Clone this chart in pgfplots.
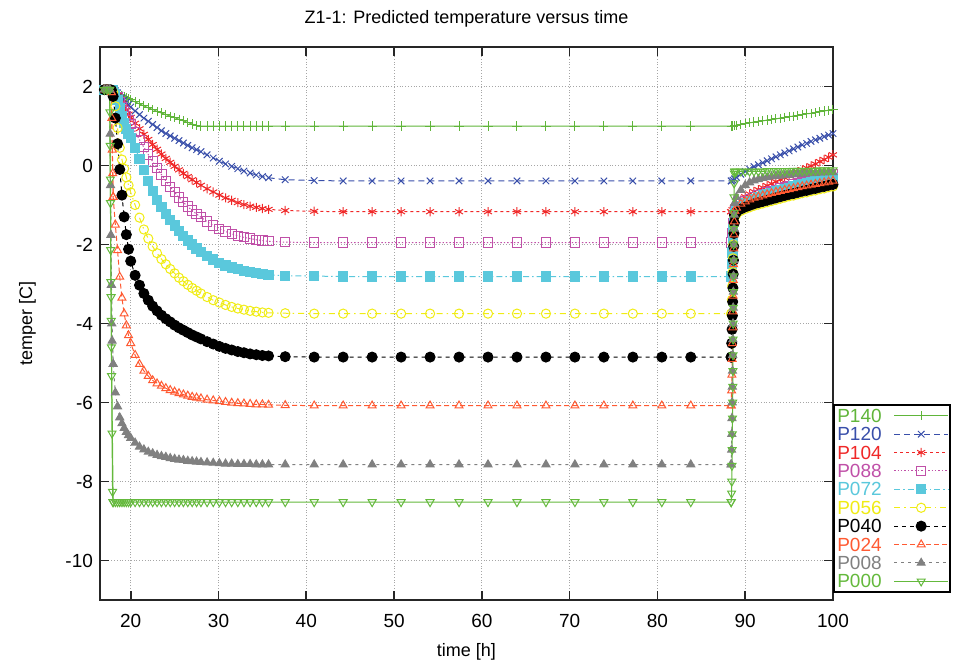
\documentclass[border=0pt]{standalone}
\usepackage{fontspec}
\setmainfont{Liberation Sans}
\usepackage{pgfplots}
\usepackage{pgfplotstable}
\pgfplotsset{compat=1.18}
\definecolor{c140}{RGB}{96,181,58}
\definecolor{c120}{RGB}{57,79,170}
\definecolor{c104}{RGB}{240,40,40}
\definecolor{c088}{RGB}{192,80,168}
\definecolor{c072}{RGB}{90,200,220}
\definecolor{c056}{RGB}{240,236,20}
\definecolor{c040}{RGB}{0,0,0}
\definecolor{c024}{RGB}{255,90,50}
\definecolor{c008}{RGB}{128,128,128}
\definecolor{c000}{RGB}{100,185,60}

\pgfplotstableread{
t p140 p120 p104 p088 p072 p056 p040 p024 p008 p000
17.0 1.92 1.92 1.92 1.92 1.92 1.92 1.92 1.92 1.92 1.92
17.3 1.92 1.92 1.92 1.92 1.92 1.92 1.92 1.92 1.92 1.92
17.6 1.92 1.92 1.92 1.92 1.92 1.92 1.92 1.92 1.92 1.92
17.8 1.92 1.92 1.92 1.92 1.92 1.91 1.91 1.85 -3.03 -4.6
18.0 1.92 1.92 1.91 1.90 1.90 1.85 1.75 -0.80 -5.03 -8.52
18.25 1.89 1.89 1.86 1.82 1.80 1.50 1.20 -1.50 -5.75 -8.52
18.5 1.85 1.84 1.78 1.72 1.65 0.95 0.55 -2.15 -6.10 -8.52
18.75 1.81 1.78 1.68 1.60 1.45 0.45 -0.10 -2.82 -6.38 -8.52
19.0 1.78 1.72 1.58 1.48 1.25 0.15 -0.75 -3.35 -6.53 -8.52
19.25 1.75 1.66 1.48 1.37 1.07 -0.08 -1.30 -3.75 -6.65 -8.52
19.5 1.72 1.60 1.39 1.26 0.92 -0.30 -1.75 -4.05 -6.75 -8.52
19.75 1.69 1.54 1.30 1.15 0.80 -0.50 -2.12 -4.30 -6.83 -8.52
20.0 1.66 1.48 1.22 1.05 0.70 -0.68 -2.42 -4.50 -6.90 -8.52
20.5 1.61 1.38 1.07 0.85 0.45 -1.00 -2.78 -4.80 -7.02 -8.52
21.0 1.56 1.29 0.93 0.65 0.17 -1.32 -3.03 -5.03 -7.12 -8.52
21.5 1.51 1.20 0.79 0.46 -0.12 -1.62 -3.24 -5.20 -7.19 -8.52
22.0 1.46 1.12 0.66 0.28 -0.40 -1.85 -3.41 -5.33 -7.25 -8.52
22.5 1.42 1.04 0.53 0.10 -0.65 -2.05 -3.56 -5.44 -7.29 -8.52
23.0 1.37 0.96 0.41 -0.07 -0.87 -2.22 -3.68 -5.52 -7.33 -8.52
23.5 1.33 0.88 0.29 -0.23 -1.06 -2.37 -3.79 -5.58 -7.36 -8.52
24.0 1.29 0.81 0.18 -0.39 -1.23 -2.50 -3.88 -5.64 -7.38 -8.52
24.5 1.25 0.75 0.08 -0.54 -1.38 -2.62 -3.96 -5.69 -7.41 -8.52
25.0 1.21 0.69 -0.02 -0.68 -1.52 -2.73 -4.04 -5.73 -7.43 -8.52
25.5 1.17 0.63 -0.11 -0.81 -1.66 -2.84 -4.11 -5.77 -7.45 -8.52
26.0 1.13 0.57 -0.20 -0.93 -1.78 -2.93 -4.17 -5.80 -7.46 -8.52
26.5 1.09 0.51 -0.28 -1.04 -1.90 -3.02 -4.23 -5.83 -7.48 -8.52
27.0 1.05 0.45 -0.36 -1.14 -2.00 -3.10 -4.29 -5.86 -7.49 -8.52
27.5 1.01 0.40 -0.43 -1.23 -2.10 -3.17 -4.34 -5.88 -7.50 -8.52
28.0 1.00 0.35 -0.50 -1.31 -2.18 -3.24 -4.39 -5.90 -7.51 -8.52
28.7 1.00 0.27 -0.59 -1.42 -2.29 -3.33 -4.46 -5.93 -7.52 -8.52
29.4 1.00 0.19 -0.67 -1.52 -2.38 -3.41 -4.52 -5.95 -7.53 -8.52
30.1 1.00 0.11 -0.75 -1.60 -2.46 -3.47 -4.58 -5.97 -7.54 -8.52
30.8 1.00 0.04 -0.82 -1.67 -2.53 -3.53 -4.63 -5.99 -7.55 -8.52
31.5 1.00 -0.02 -0.88 -1.73 -2.58 -3.58 -4.67 -6.01 -7.55 -8.52
32.2 1.00 -0.08 -0.94 -1.78 -2.63 -3.62 -4.71 -6.02 -7.56 -8.52
32.9 1.00 -0.14 -0.99 -1.82 -2.67 -3.65 -4.74 -6.03 -7.56 -8.52
33.6 1.00 -0.19 -1.03 -1.85 -2.70 -3.68 -4.77 -6.04 -7.56 -8.52
34.3 1.00 -0.24 -1.06 -1.88 -2.73 -3.70 -4.79 -6.05 -7.57 -8.52
35.0 1.00 -0.28 -1.09 -1.90 -2.75 -3.72 -4.81 -6.05 -7.57 -8.52
35.7 1.00 -0.31 -1.11 -1.92 -2.77 -3.73 -4.82 -6.06 -7.57 -8.52
37.6 1.00 -0.36 -1.14 -1.94 -2.79 -3.74 -4.84 -6.07 -7.57 -8.52
40.9 1.00 -0.38 -1.16 -1.95 -2.80 -3.75 -4.85 -6.08 -7.57 -8.52
44.2 1.00 -0.39 -1.17 -1.95 -2.81 -3.75 -4.85 -6.08 -7.57 -8.52
47.5 1.00 -0.39 -1.17 -1.95 -2.81 -3.75 -4.85 -6.08 -7.57 -8.52
50.8 1.00 -0.39 -1.17 -1.95 -2.81 -3.75 -4.85 -6.08 -7.57 -8.52
54.1 1.00 -0.39 -1.17 -1.95 -2.81 -3.75 -4.85 -6.08 -7.57 -8.52
57.4 1.00 -0.39 -1.17 -1.95 -2.81 -3.75 -4.85 -6.08 -7.57 -8.52
60.7 1.00 -0.39 -1.17 -1.95 -2.81 -3.75 -4.85 -6.08 -7.57 -8.52
64.0 1.00 -0.39 -1.17 -1.95 -2.81 -3.75 -4.85 -6.08 -7.57 -8.52
67.3 1.00 -0.39 -1.17 -1.95 -2.81 -3.75 -4.85 -6.08 -7.57 -8.52
70.6 1.00 -0.39 -1.17 -1.95 -2.81 -3.75 -4.85 -6.08 -7.57 -8.52
73.9 1.00 -0.39 -1.17 -1.95 -2.81 -3.75 -4.85 -6.08 -7.57 -8.52
77.2 1.00 -0.39 -1.17 -1.95 -2.81 -3.75 -4.85 -6.08 -7.57 -8.52
80.5 1.00 -0.39 -1.17 -1.95 -2.81 -3.75 -4.85 -6.08 -7.57 -8.52
83.8 1.00 -0.39 -1.17 -1.95 -2.81 -3.75 -4.85 -6.08 -7.57 -8.52
88.4 1.00 -0.39 -1.17 -1.95 -2.81 -3.75 -4.85 -6.08 -7.57 -8.52
}\main

\pgfplotstableread{
t p140 p120 p104 p088 p072 p056 p040 p024 p008 p000
88.8 1.01 -0.34 -1.05 -1.15 -1.20 -1.30 -1.25 -1.15 -0.95 -0.15
89.0 1.02 -0.30 -0.98 -1.08 -1.12 -1.24 -1.18 -1.07 -0.80 -0.15
89.5 1.04 -0.22 -0.87 -0.98 -1.02 -1.15 -1.10 -0.97 -0.62 -0.15
90.0 1.06 -0.15 -0.79 -0.91 -0.95 -1.10 -1.05 -0.91 -0.50 -0.15
90.5 1.08 -0.09 -0.72 -0.85 -0.89 -1.06 -1.01 -0.86 -0.43 -0.15
91.0 1.10 -0.03 -0.66 -0.80 -0.84 -1.02 -0.97 -0.82 -0.38 -0.15
91.5 1.12 0.02 -0.61 -0.76 -0.80 -0.99 -0.94 -0.79 -0.35 -0.15
92.0 1.13 0.07 -0.56 -0.72 -0.76 -0.96 -0.91 -0.76 -0.32 -0.15
92.5 1.15 0.12 -0.51 -0.68 -0.72 -0.93 -0.88 -0.73 -0.30 -0.14
93.0 1.17 0.17 -0.46 -0.64 -0.69 -0.90 -0.85 -0.70 -0.28 -0.14
93.5 1.18 0.22 -0.41 -0.61 -0.65 -0.87 -0.82 -0.67 -0.27 -0.14
94.0 1.20 0.27 -0.36 -0.57 -0.62 -0.84 -0.79 -0.65 -0.26 -0.14
94.5 1.22 0.32 -0.31 -0.54 -0.59 -0.81 -0.76 -0.62 -0.25 -0.14
95.0 1.24 0.37 -0.26 -0.51 -0.56 -0.78 -0.73 -0.60 -0.24 -0.14
95.5 1.25 0.42 -0.21 -0.48 -0.53 -0.76 -0.71 -0.58 -0.23 -0.13
96.0 1.27 0.47 -0.16 -0.45 -0.50 -0.73 -0.68 -0.55 -0.22 -0.13
96.5 1.29 0.52 -0.11 -0.42 -0.47 -0.70 -0.65 -0.53 -0.21 -0.13
97.0 1.31 0.56 -0.06 -0.39 -0.45 -0.68 -0.63 -0.51 -0.20 -0.13
97.5 1.32 0.61 -0.01 -0.36 -0.42 -0.65 -0.60 -0.49 -0.20 -0.13
98.0 1.34 0.65 0.04 -0.33 -0.40 -0.63 -0.58 -0.47 -0.19 -0.13
98.5 1.36 0.69 0.10 -0.31 -0.37 -0.60 -0.55 -0.45 -0.18 -0.12
99.0 1.38 0.73 0.15 -0.28 -0.35 -0.58 -0.53 -0.43 -0.18 -0.12
99.5 1.40 0.77 0.21 -0.25 -0.33 -0.55 -0.50 -0.41 -0.17 -0.12
100.0 1.42 0.81 0.27 -0.23 -0.31 -0.53 -0.48 -0.39 -0.17 -0.12
}\post

\pgfplotsset{
  base/.style={line width=0.5pt, mark size=2.3pt, mark options={solid, line width=0.5pt}},
  s140/.style={base, color=c140, mark=+},
  s120/.style={base, color=c120, dash pattern=on 3pt off 2pt, mark=x},
  s104/.style={base, color=c104, dash pattern=on 1.5pt off 1.5pt, mark=asterisk},
  s088/.style={base, color=c088, dash pattern=on 0.7pt off 1pt, mark=square},
  s072/.style={base, color=c072, dash pattern=on 3pt off 1.5pt on 0.7pt off 1.5pt, mark=square*},
  s056/.style={base, color=c056, dash pattern=on 3pt off 2pt on 0.7pt off 2pt, mark=o},
  s040/.style={base, color=c040, dash pattern=on 2pt off 2pt, mark=*, mark size=2.5pt},
  s024/.style={base, color=c024, dash pattern=on 2.5pt off 1.5pt, mark=triangle},
  s008/.style={base, color=c008, dash pattern=on 1.5pt off 2pt, mark=triangle*},
  s000/.style={base, color=c000, mark=triangle, mark options={solid, rotate=180, line width=0.5pt}},
}

\begin{document}
\begin{tikzpicture}
\useasboundingbox (-50pt,-30.5pt) rectangle (432.5pt,300pt);
\begin{axis}[
  scale only axis,
  width=366.5pt, height=276.5pt,
  xmin=16.5, xmax=100, ymin=-11, ymax=3,
  xtick={20,30,...,100}, ytick={-10,-8,...,2},
  /pgf/number format/assume math mode=true,
  font=\fontsize{9}{10}\selectfont,
  tick label style={font=\fontsize{9.5}{10}\selectfont},
  xticklabel style={yshift=-3.5pt},
  grid=major,
  grid style={densely dotted, gray!70, line width=0.5pt},
  axis line style={line width=0.9pt, black!85},
  tick style={line width=0.8pt, black!85},
  major tick length=4.5pt,
  tick align=inside,
  title={Z1-1: Predicted temperature versus time},
  title style={yshift=0.5pt},
  xlabel={time [h]}, ylabel={temper [C]},
  xlabel style={yshift=-1pt},
  ylabel style={yshift=8pt},
  clip=false,
  legend style={at={(1,0.354)}, anchor=north west, draw=black, line width=0.8pt, fill=white,
    font=\fontsize{9.5}{10}\selectfont, inner sep=0.75pt, row sep=0pt,
    nodes={inner sep=1pt, text height=6.9pt, text depth=0.3pt},
    /tikz/every odd column/.append style={column sep=5pt}},
  legend cell align=left,
  legend plot pos=right,
  legend image code/.code={\draw[mark repeat=2,mark phase=2] plot coordinates {(0pt,0pt) (13.5pt,0pt) (27pt,0pt)};},
]
% P140
\addplot[s140] table[x=t,y=p140]{\main};
\addlegendentry{\textcolor{c140}{P140}}
\addplot[s140,forget plot] coordinates {(88.4,1.0) (88.6,1.0) (88.8,1.01)};
\addplot[s140,forget plot] table[x=t,y=p140]{\post};
% P120
\addplot[s120] table[x=t,y=p120]{\main};
\addlegendentry{\textcolor{c120}{P120}}
\addplot[s120,forget plot] coordinates {(88.4,-0.39) (88.6,-0.37) (88.8,-0.34)};
\addplot[s120,forget plot] table[x=t,y=p120]{\post};
% P104
\addplot[s104] table[x=t,y=p104]{\main};
\addlegendentry{\textcolor{c104}{P104}}
\addplot[s104,forget plot] coordinates {(88.4,-1.17) (88.55,-1.12) (88.7,-1.08) (88.8,-1.05)};
\addplot[s104,forget plot] table[x=t,y=p104]{\post};
% P088
\addplot[s088] table[x=t,y=p088]{\main};
\addlegendentry{\textcolor{c088}{P088}}
\addplot[s088,forget plot] coordinates {(88.4,-1.95) (88.5,-1.7) (88.6,-1.45) (88.7,-1.28) (88.8,-1.15)};
\addplot[s088,forget plot] table[x=t,y=p088]{\post};
% P072
\addplot[s072] table[x=t,y=p072]{\main};
\addlegendentry{\textcolor{c072}{P072}}
\addplot[s072,forget plot] coordinates {(88.4,-2.81) (88.5,-2.5) (88.55,-2.2) (88.6,-1.9) (88.65,-1.62) (88.7,-1.4) (88.8,-1.2)};
\addplot[s072,forget plot] table[x=t,y=p072]{\post};
% P056
\addplot[s056] table[x=t,y=p056]{\main};
\addlegendentry{\textcolor{c056}{P056}}
\addplot[s056,forget plot] coordinates {(88.4,-3.75) (88.48,-3.4) (88.52,-3.05) (88.56,-2.7) (88.6,-2.35) (88.64,-2.0) (88.68,-1.7) (88.72,-1.48) (88.8,-1.3)};
\addplot[s056,forget plot] table[x=t,y=p056]{\post};
% P040
\addplot[s040] table[x=t,y=p040]{\main};
\addlegendentry{\textcolor{c040}{P040}}
\addplot[s040,forget plot] coordinates {(88.4,-4.85) (88.46,-4.5) (88.5,-4.15) (88.54,-3.8) (88.57,-3.45) (88.6,-3.1) (88.63,-2.75) (88.66,-2.4) (88.69,-2.05) (88.72,-1.72) (88.76,-1.45) (88.8,-1.25)};
\addplot[s040,forget plot] table[x=t,y=p040]{\post};
% P024
\addplot[s024] table[x=t,y=p024]{\main};
\addlegendentry{\textcolor{c024}{P024}}
\addplot[s024,forget plot] coordinates {(17.8,1.85) (17.85,1.2) (17.9,0.4) (17.95,-0.2) (18.0,-0.8)};
\addplot[s024,forget plot] coordinates {(88.4,-6.08) (88.45,-5.7) (88.48,-5.3) (88.51,-4.9) (88.54,-4.5) (88.57,-4.1) (88.6,-3.7) (88.62,-3.3) (88.64,-2.9) (88.66,-2.5) (88.69,-2.1) (88.72,-1.75) (88.76,-1.42) (88.8,-1.15)};
\addplot[s024,forget plot] table[x=t,y=p024]{\post};
% P008
\addplot[s008] table[x=t,y=p008]{\main};
\addlegendentry{\textcolor{c008}{P008}}
\addplot[s008,forget plot] coordinates {(17.6,1.92) (17.66,0.8) (17.7,-0.5) (17.74,-1.76) (17.8,-3.03) (17.84,-4.0) (17.88,-4.44) (18.0,-5.03)};
\addplot[s008,forget plot] coordinates {(88.4,-7.57) (88.45,-7.2) (88.47,-6.8) (88.49,-6.4) (88.51,-6.0) (88.53,-5.6) (88.55,-5.2) (88.57,-4.8) (88.59,-4.4) (88.61,-4.0) (88.63,-3.6) (88.65,-3.2) (88.67,-2.8) (88.69,-2.4) (88.71,-2.0) (88.73,-1.6) (88.76,-1.25) (88.8,-0.95)};
\addplot[s008,forget plot] table[x=t,y=p008]{\post};
% P000
\addplot[s000] table[x=t,y=p000]{\main};
\addlegendentry{\textcolor{c000}{P000}}
\addplot[s000,forget plot] coordinates {(17.6,1.92) (17.63,1.35) (17.66,0.5) (17.68,-0.35) (17.7,-0.95) (17.72,-2.14) (17.74,-2.95) (17.76,-3.33) (17.78,-3.93) (17.82,-5.33) (17.87,-6.78) (17.93,-8.26) (17.97,-8.52)};
\addplot[s000,forget plot] coordinates {(88.4,-8.52) (88.45,-8.3) (88.47,-8.0) (88.49,-7.6) (88.51,-7.2) (88.53,-6.8) (88.55,-6.4) (88.57,-6.0) (88.59,-5.6) (88.6,-5.2) (88.61,-4.8) (88.62,-4.4) (88.63,-4.0) (88.64,-3.6) (88.65,-3.2) (88.66,-2.8) (88.67,-2.4) (88.68,-2.0) (88.69,-1.6) (88.7,-1.2) (88.72,-0.8) (88.74,-0.45) (88.77,-0.2) (88.8,-0.15)};
\addplot[s000,forget plot] table[x=t,y=p000]{\post};
\end{axis}
\end{tikzpicture}
\end{document}
